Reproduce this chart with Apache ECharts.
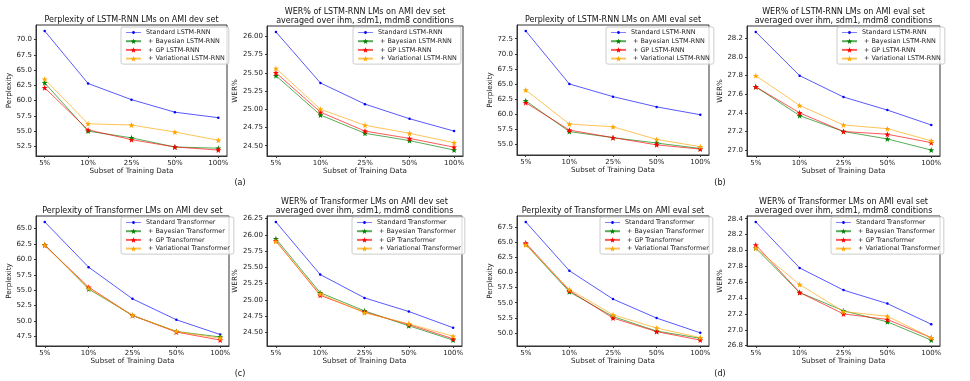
<!DOCTYPE html>
<html>
<head>
<meta charset="utf-8">
<script src="https://cdn.jsdelivr.net/npm/echarts@6/dist/echarts.min.js"></script>
<style>
html, body { margin: 0; padding: 0; background: #fff; }
#chart { width: 970px; height: 381px; }
</style>
</head>
<body>
<div id="chart"></div>
<script>
var categories = ['5%', '10%', '25%', '50%', '100%'];
var lstmNames = ['Standard LSTM-RNN', ' + Bayesian LSTM-RNN', ' + GP LSTM-RNN', ' + Variational LSTM-RNN'];
var transNames = ['Standard Transformer', ' + Bayesian Transformer', ' + GP Transformer', ' + Variational Transformer'];

// rows: standard, bayesian, gp, variational
var lstmPplDev = [
    [71.4, 62.8, 60.15, 58.1, 57.2],
    [62.9, 55.0, 53.9, 52.4, 52.2],
    [62.1, 55.2, 53.6, 52.4, 51.9],
    [63.5, 56.2, 56.0, 54.85, 53.5]
];
var lstmWerDev = [
    [26.06, 25.36, 25.07, 24.87, 24.70],
    [25.46, 24.92, 24.67, 24.57, 24.44],
    [25.50, 24.96, 24.70, 24.60, 24.48],
    [25.56, 25.00, 24.78, 24.67, 24.54]
];
var lstmPplEval = [
    [73.8, 65.0, 62.9, 61.2, 59.9],
    [62.2, 57.1, 56.1, 55.2, 54.3],
    [61.9, 57.35, 56.1, 54.9, 54.2],
    [64.0, 58.35, 57.9, 55.8, 54.6]
];
var lstmWerEval = [
    [28.27, 27.80, 27.57, 27.43, 27.27],
    [27.68, 27.37, 27.20, 27.12, 27.00],
    [27.68, 27.40, 27.20, 27.17, 27.08],
    [27.80, 27.48, 27.27, 27.23, 27.10]
];
var transPplDev = [
    [66.1, 58.75, 53.6, 50.2, 47.8],
    [62.4, 55.2, 50.9, 48.3, 47.4],
    [62.3, 55.5, 50.9, 48.2, 46.9],
    [62.3, 55.3, 50.9, 48.3, 47.2]
];
var transWerDev = [
    [26.20, 25.39, 25.03, 24.82, 24.57],
    [25.94, 25.11, 24.83, 24.60, 24.38],
    [25.91, 25.07, 24.81, 24.62, 24.40],
    [25.90, 25.09, 24.80, 24.63, 24.44]
];
var transPplEval = [
    [68.4, 60.3, 55.6, 52.45, 50.0],
    [64.7, 56.8, 52.7, 50.3, 49.1],
    [64.9, 57.0, 52.45, 50.2, 48.8],
    [64.6, 57.2, 53.0, 50.8, 49.2]
];
var transWerEval = [
    [28.36, 27.78, 27.50, 27.33, 27.07],
    [28.03, 27.47, 27.24, 27.10, 26.87],
    [28.07, 27.47, 27.20, 27.13, 26.90],
    [28.03, 27.57, 27.23, 27.17, 26.90]
];

// y tick labels per panel
var ticks1 = [52.5, 55.0, 57.5, 60.0, 62.5, 65.0, 67.5, 70.0];
var ticks2 = [24.50, 24.75, 25.00, 25.25, 25.50, 25.75, 26.00];
var ticks3 = [55.0, 57.5, 60.0, 62.5, 65.0, 67.5, 70.0, 72.5];
var ticks4 = [27.0, 27.2, 27.4, 27.6, 27.8, 28.0, 28.2];
var ticks5 = [47.5, 50.0, 52.5, 55.0, 57.5, 60.0, 62.5, 65.0];
var ticks6 = [24.50, 24.75, 25.00, 25.25, 25.50, 25.75, 26.00, 26.25];
var ticks7 = [50.0, 52.5, 55.0, 57.5, 60.0, 62.5, 65.0, 67.5];
var ticks8 = [26.8, 27.0, 27.2, 27.4, 27.6, 27.8, 28.0, 28.2, 28.4];

var colors = ['#0000ff', '#008000', '#ff0000', '#ffa500'];
var star = 'path://M0,-10L2.35,-3.24L9.51,-3.09L3.8,1.24L5.88,8.09L0,4L-5.88,8.09L-3.8,1.24L-9.51,-3.09L-2.35,-3.24Z';
// legend handle for the plain line: thin line with a small dot in the middle
var dotLine = 'path://M0,1.6L6.2,1.6A1.3,1.3 0 0 1 8.8,1.6L15,1.6L15,2.2L8.8,2.2A1.3,1.3 0 0 1 6.2,2.2L0,2.2Z';
var font = 'DejaVu Sans';
var werSub = '\naveraged over ihm, sdm1, mdm8 conditions';

var panels = [
    {vals: lstmPplDev, names: lstmNames, ticks: ticks1, dec: 1, yName: 'Perplexity', gap: 18,
     title: 'Perplexity of LSTM-RNN LMs on AMI dev set', box: [36, 25, 191, 131], leg: [121, 27]},
    {vals: lstmWerDev, names: lstmNames, ticks: ticks2, dec: 2, yName: 'WER%', gap: 21,
     title: 'WER% of LSTM-RNN LMs on AMI dev set' + werSub, box: [267, 26, 196, 130], leg: [353, 27]},
    {vals: lstmPplEval, names: lstmNames, ticks: ticks3, dec: 1, yName: 'Perplexity', gap: 20,
     title: 'Perplexity of LSTM-RNN LMs on AMI eval set', box: [517, 25, 192, 130], leg: [606, 27]},
    {vals: lstmWerEval, names: lstmNames, ticks: ticks4, dec: 1, yName: 'WER%', gap: 17,
     title: 'WER% of LSTM-RNN LMs on AMI eval set' + werSub, box: [747, 26, 193, 130], leg: [837, 27]},
    {vals: transPplDev, names: transNames, ticks: ticks5, dec: 1, yName: 'Perplexity', gap: 18,
     title: 'Perplexity of Transformer LMs on AMI dev set', box: [36, 216, 193, 130], leg: [121, 217]},
    {vals: transWerDev, names: transNames, ticks: ticks6, dec: 2, yName: 'WER%', gap: 22,
     title: 'WER% of Transformer LMs on AMI dev set' + werSub, box: [267, 216, 195, 130], leg: [352, 217]},
    {vals: transPplEval, names: transNames, ticks: ticks7, dec: 1, yName: 'Perplexity', gap: 20,
     title: 'Perplexity of Transformer LMs on AMI eval set', box: [517, 216, 192, 130], leg: [600, 217]},
    {vals: transWerEval, names: transNames, ticks: ticks8, dec: 1, yName: 'WER%', gap: 18,
     title: 'WER% of Transformer LMs on AMI eval set' + werSub, box: [747, 216, 193, 130], leg: [831, 217]}
];

var grids = [], xAxes = [], yAxes = [], titles = [], legends = [], series = [];

panels.forEach(function (p, idx) {
    var b = p.box;
    var all = [].concat.apply([], p.vals);
    var lo = Math.min.apply(null, all), hi = Math.max.apply(null, all);
    var pad = (hi - lo) * 0.05;
    var twoLine = p.title.indexOf('\n') >= 0;

    grids.push({left: b[0], top: b[1], width: b[2], height: b[3], show: true,
        borderColor: '#333', borderWidth: 1, backgroundColor: '#fff'});

    xAxes.push({
        type: 'value', gridIndex: idx, min: -0.2, max: 4.2,
        name: 'Subset of Training Data', nameLocation: 'middle', nameGap: 12,
        nameTextStyle: {fontFamily: font, fontSize: 7.2, color: '#222'},
        axisLine: {onZero: false, lineStyle: {color: '#333'}},
        axisTick: {show: true, length: 2, customValues: [0, 1, 2, 3, 4], lineStyle: {color: '#333'}},
        axisLabel: {customValues: [0, 1, 2, 3, 4], margin: 4, fontFamily: font, fontSize: 7, color: '#222',
            formatter: function (v) { return categories[Math.round(v)]; }},
        splitLine: {show: false}
    });

    yAxes.push({
        type: 'value', gridIndex: idx, min: lo - pad, max: hi + pad,
        name: p.yName, nameLocation: 'middle', nameGap: p.gap, nameRotate: 90,
        nameTextStyle: {fontFamily: font, fontSize: 7.2, color: '#222'},
        axisLine: {show: true, onZero: false, lineStyle: {color: '#333'}},
        axisTick: {show: true, length: 2, customValues: p.ticks, lineStyle: {color: '#333'}},
        axisLabel: {customValues: p.ticks, margin: 4, fontFamily: font, fontSize: 7, color: '#222',
            formatter: (function (d) { return function (v) { return v.toFixed(d); }; })(p.dec)},
        splitLine: {show: false}
    });

    titles.push({
        text: p.title, left: b[0] + b[2] / 2, textAlign: 'center',
        top: twoLine ? b[1] - 19 : b[1] - 10, padding: 0,
        textStyle: {fontFamily: font, fontSize: 8, fontWeight: 'normal', color: '#111', lineHeight: 9.2}
    });

    legends.push({
        data: p.names.map(function (n, k) { return k === 0 ? {name: n, icon: dotLine} : {name: n}; }),
        orient: 'vertical', left: p.leg[0], top: p.leg[1],
        itemWidth: 15, itemHeight: 7, itemGap: 1.7, padding: [2, 4, 2, 4],
        backgroundColor: 'rgba(255,255,255,0.8)', borderColor: '#ccc', borderWidth: 1, borderRadius: 2,
        textStyle: {fontFamily: font, fontSize: 6.4, color: '#222', lineHeight: 7}
    });

    p.vals.forEach(function (row, k) {
        series.push({
            type: 'line', name: p.names[k], xAxisIndex: idx, yAxisIndex: idx,
            data: row.map(function (v, i) { return [i, v]; }),
            symbol: k === 0 ? 'circle' : star, symbolSize: k === 0 ? 2.5 : 6,
            showAllSymbol: true,
            itemStyle: {color: colors[k]},
            lineStyle: {color: colors[k], width: 1, opacity: 0.65},
            emphasis: {disabled: true}
        });
    });
});

var subLabels = [['(a)', 240, 179], ['(b)', 720, 179], ['(c)', 240, 370], ['(d)', 720, 370]];
subLabels.forEach(function (s) {
    titles.push({text: s[0], left: s[1], top: s[2], textAlign: 'center', padding: 0,
        textStyle: {fontFamily: font, fontSize: 8, fontWeight: 'normal', color: '#111'}});
});

var chart = echarts.init(document.getElementById('chart'));
chart.setOption({
    animation: false,
    title: titles,
    legend: legends,
    grid: grids,
    xAxis: xAxes,
    yAxis: yAxes,
    series: series
});
</script>
</body>
</html>
